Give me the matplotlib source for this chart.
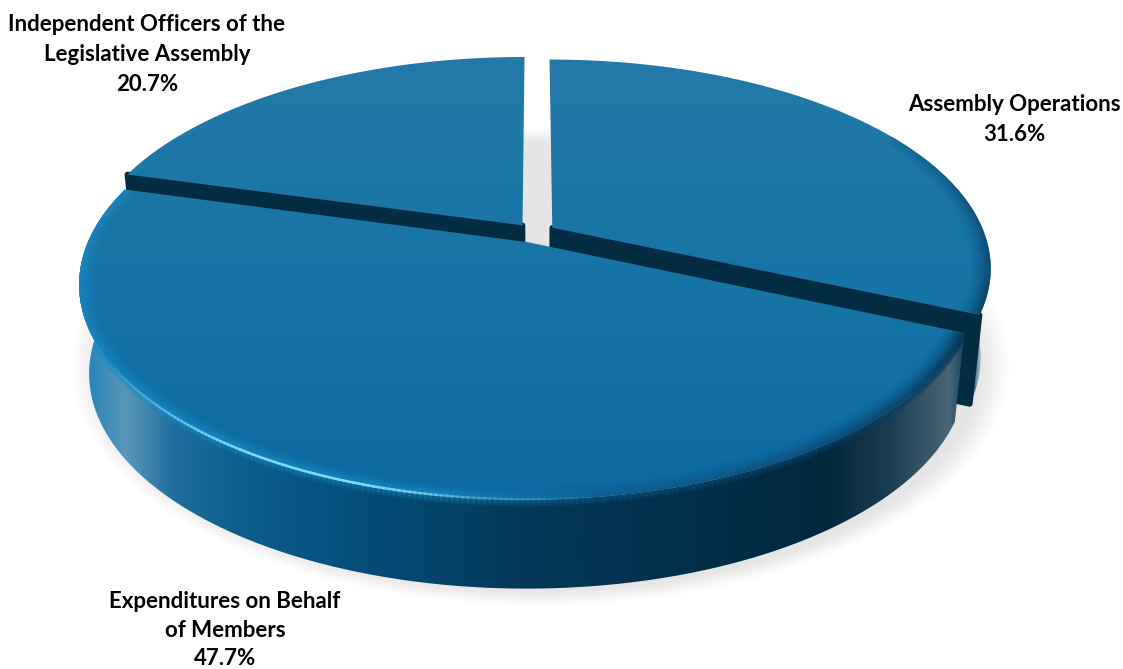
import numpy as np
import matplotlib
matplotlib.use("Agg")
import matplotlib.pyplot as plt
from matplotlib.patches import Polygon
from matplotlib.collections import LineCollection
from matplotlib.colors import LinearSegmentedColormap

labels = ["Assembly Operations", "Expenditures on Behalf\nof Members", "Independent Officers of the\nLegislative Assembly"]
shares = [31.6, 47.7, 20.7]
label_pos = [(1014, 103), (225, 600), (147, 23)]

# disc geometry, pixels
cx, cy = 535, 233
ra, rb = 432, 202
persp = 0.19
explode = 0.048
depth = 89
taper = 0.978
radius = [1.0, 1.01, 1.006]

plt.rcParams["font.family"] = ["Lato", "DejaVu Sans"]
fig = plt.figure(figsize=(11.23, 6.69), dpi=100)
ax = fig.add_axes([0, 0, 1, 1])


def project(theta, r, off):
    # theta runs clockwise from 12 o'clock, off is the slice's mid angle
    X = r * np.sin(theta) + explode * np.sin(off)
    Y = r * np.cos(theta) + explode * np.cos(off)
    w = 1 + persp * Y
    return cx + ra * X / w, cy - rb * Y / w


def lower(x, y):
    # bottom edge of the disc: same outline, pulled in a little by perspective
    return cx + (x - cx) * taper, y + depth


def gradient(clip, cmap, horizontal=True, zorder=2):
    data = np.linspace(0, 1, 1024)
    data = data[None, :] if horizontal else data[:, None]
    im = ax.imshow(data, cmap=cmap, extent=(0, 1123, 669, 0), aspect="auto", zorder=zorder,
                   interpolation="bilinear")
    im.set_clip_path(clip)


def stops(pairs, size):
    return LinearSegmentedColormap.from_list("c", [(p / size, c) for p, c in pairs], N=1024)


def rim_lines(x, y, colors, lw, zorder, clip=None):
    pts = np.column_stack([x, y]).reshape(-1, 1, 2)
    segs = np.concatenate([pts[:-1], pts[1:]], axis=1)
    lc = LineCollection(segs, colors=colors, linewidths=lw, zorder=zorder, capstyle="round")
    ax.add_collection(lc)
    if clip is not None:
        lc.set_clip_path(clip)


top_cmap = stops([(0, "#2a7ea8"), (60, "#237aa8"), (300, "#1674a6"), (500, "#0d6aa2"), (669, "#0d6aa2")], 669)
side_cmap = stops([(0, "#2a85b8"), (90, "#2a85b8"), (125, "#5a97b8"), (175, "#1f6d9e"), (230, "#0f6090"),
                   (300, "#075585"), (420, "#03466e"), (520, "#03395a"), (680, "#03304b"), (760, "#012b43"),
                   (830, "#03283e"), (890, "#1b3d52"), (950, "#4a6577"), (962, "#1c4a66"), (972, "#2c5a76"),
                   (980, "#8fb0c3"), (995, "#c3d4de"), (1123, "#c3d4de")], 1123)
cut_color = "#032b42"

# soft shadow under the disc, also seen through the gap
yy, xx = np.mgrid[0:669, 0:1123]
dist = np.sqrt(((xx - 540) / 472.0) ** 2 + ((yy - 366) / 240.0) ** 2)
alpha = np.clip((1.0 - dist) / 0.07, 0, 1) * 0.105
shadow = np.zeros((669, 1123, 4))
shadow[..., 3] = alpha
ax.imshow(shadow, extent=(0, 1123, 669, 0), aspect="auto", zorder=1)

# slice boundaries from the shares
fracs = np.array(shares) / sum(shares)
edges = np.concatenate([[0], np.cumsum(fracs)]) * 2 * np.pi
draw_order = [2, 0, 1]  # back slices first, the big front one last

for z, i in enumerate(draw_order):
    t0, t1 = edges[i], edges[i + 1]
    mid = (t0 + t1) / 2
    base = 2 + z * 3
    th = np.linspace(t0, t1, 300)
    x, y = project(th, radius[i], mid)
    ax_, ay_ = project(np.array([mid]), 0.0, mid)
    lx, ly = lower(x, y)

    # outer wall, on the back slices only the part past the side of the disc shows
    vis = np.degrees(th) > 60 if i == 0 else np.ones(th.size, dtype=bool)
    wall = Polygon(np.column_stack([np.r_[x[vis], lx[vis][::-1]], np.r_[y[vis], ly[vis][::-1]]]), closed=True,
                   fc="none", ec="none")
    ax.add_patch(wall)
    if i != 2:
        gradient(wall, side_cmap, True, base)

    # cut face towards the front slice, the sides at the gap stay hidden
    if i != 1:
        k = -1 if i == 0 else 0
        bx, by = lower(x[k], y[k])
        ox, oy = lower(ax_[0], ay_[0])
        ax.add_patch(Polygon([(ax_[0], ay_[0]), (x[k], y[k]), (bx, by), (ox, oy)], closed=True, fc=cut_color,
                             ec=cut_color, lw=4, joinstyle="round", zorder=base + 0.5))

    # top face
    face = Polygon(np.column_stack([np.r_[ax_, x], np.r_[ay_, y]]), closed=True, fc="none", ec="none")
    ax.add_patch(face)
    gradient(face, top_cmap, False, base + 1)

    # bevel along the rim of the top face
    deg = np.degrees(th)
    key = [0, 60, 85, 113, 170, 190, 222, 250, 285, 300, 360]
    if i == 1:
        r_ = [0, 0, 0, 6, 14, 24, 24, 24, 24, 24, 0]
        g_ = [0, 0, 0, 50, 90, 140, 140, 140, 138, 120, 0]
        b_ = [0, 0, 0, 85, 140, 195, 200, 200, 198, 170, 0]
        strength = [0, 0, 0, 0.9, 0.7, 0.7, 0.7, 0.6, 0.5, 0.4, 0]
    else:
        r_ = [10] * 11
        g_ = [60] * 11
        b_ = [95] * 11
        strength = [0, 0, 0.25, 0.6, 0.6, 0, 0, 0, 0, 0, 0]
    rgba = np.column_stack([np.interp(deg, key, r_) / 255, np.interp(deg, key, g_) / 255,
                            np.interp(deg, key, b_) / 255, np.interp(deg, key, strength)])
    for n in range(9):
        bx, by = project(th, radius[i] * (1.0 - n * 0.005), mid)
        c = rgba[:-1].copy()
        c[:, 3] *= (1 - n / 9.0) ** 2 * 0.6
        rim_lines(bx, by, c, 2.5, base + 1.5, face)

    if i == 1:
        # edge of the top face melts into the wall below it
        for n in range(4):
            c = rgba[:-1].copy()
            c[:, 3] = c[:, 3] * (0.38 - n * 0.08)
            rim_lines(x, y + 1 + n * 1.6, c, 2.0, base + 0.5, wall)
        # thin specular streak on the front rim
        spec = np.interp(deg, [172, 185, 197, 212, 225, 238], [0, 0.3, 1.0, 1.0, 0.4, 0])
        c = np.column_stack([np.full(deg.size, 0.50), np.full(deg.size, 0.85), np.full(deg.size, 0.97), spec])[:-1]
        sx, sy = project(th, radius[i] * 0.999, mid)
        rim_lines(sx, sy, c, 1.8, base + 2)

for n, (lab, share, (tx, ty)) in enumerate(zip(labels, shares, label_pos)):
    ax.text(tx, ty - 9, "%s\n%.1f%%" % (lab, share), ha="center", va="top", fontsize=16, fontweight="bold",
            color="black", linespacing=1.45 if n == 1 else 1.52, zorder=30)

ax.set_xlim(0, 1123)
ax.set_ylim(669, 0)
ax.axis("off")
fig.savefig("out.png", dpi=100, facecolor="white")
